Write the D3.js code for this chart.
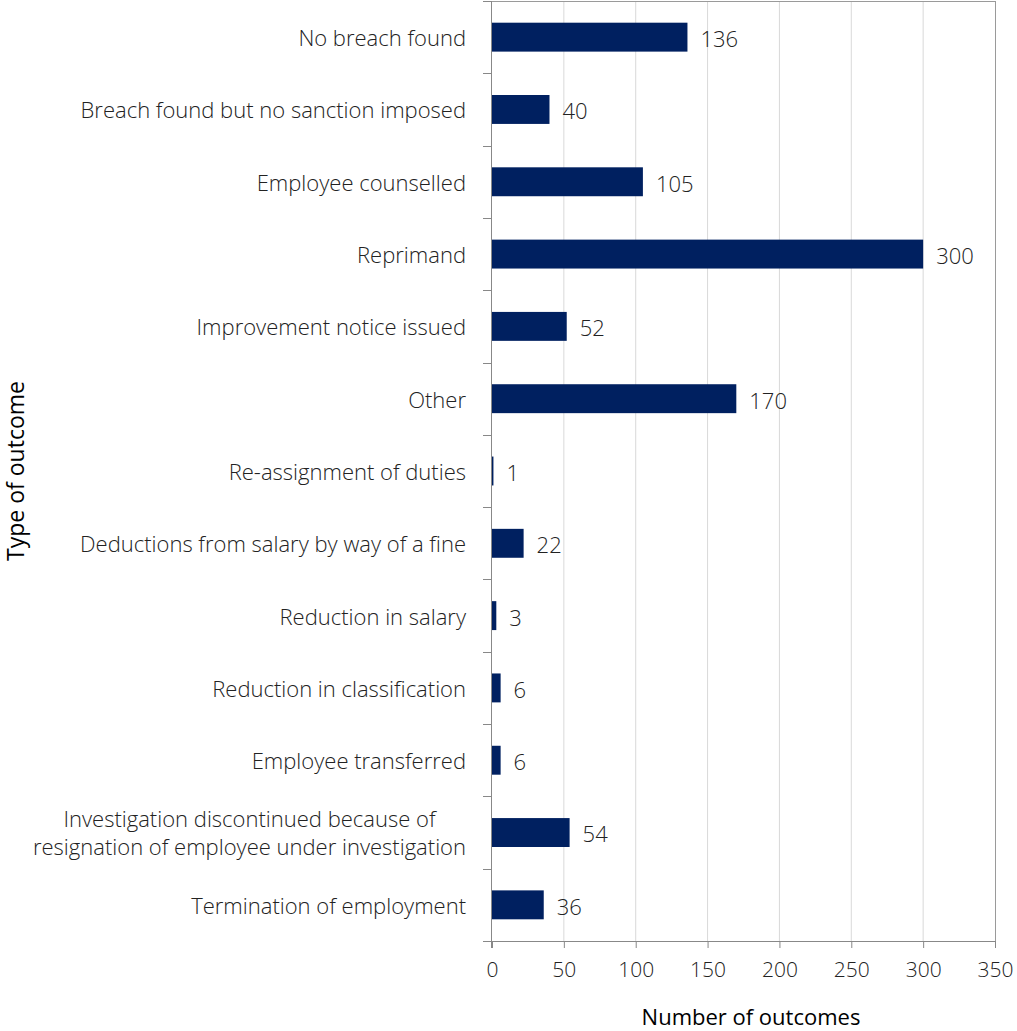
<!DOCTYPE html>
<html>
<head>
<meta charset="utf-8">
<script src="https://cdn.jsdelivr.net/npm/d3@7"></script>
<style>
    body { margin: 0; background: #fff; }
    text { font-family: "Open Sans", "Liberation Sans", Arial, sans-serif; font-weight: 300; }
</style>
</head>
<body>
<svg id="chart"></svg>
<script>
    'use strict';

    var categories = [
        'No breach found',
        'Breach found but no sanction imposed',
        'Employee counselled',
        'Reprimand',
        'Improvement notice issued',
        'Other',
        'Re-assignment of duties',
        'Deductions from salary by way of a fine',
        'Reduction in salary',
        'Reduction in classification',
        'Employee transferred',
        'Investigation discontinued because of\nresignation of employee under investigation',
        'Termination of employment'
    ];
    var values = [136, 40, 105, 300, 52, 170, 1, 22, 3, 6, 6, 54, 36];
    var xTicks = [0, 50, 100, 150, 200, 250, 300, 350];

    var width = 1017;
    var height = 1031;
    var margin = { top: 1, right: 22, bottom: 90, left: 492 };
    var plotW = width - margin.left - margin.right;
    var plotH = height - margin.top - margin.bottom;

    var svg = d3.select('#chart')
        .attr('width', width)
        .attr('height', height);

    var g = svg.append('g')
        .attr('transform', 'translate(' + margin.left + ',' + margin.top + ')');

    var x = d3.scaleLinear().domain([0, 350]).range([0, plotW]);
    var y = d3.scaleBand()
        .domain(categories)
        .range([0, plotH])
        .paddingInner(0.6)
        .paddingOuter(0.3);
    var step = y.step();

    // gridlines
    g.selectAll('.grid')
        .data(xTicks.slice(1, -1))
        .enter().append('line')
        .attr('x1', function (d) { return x(d); })
        .attr('x2', function (d) { return x(d); })
        .attr('y1', 0)
        .attr('y2', plotH)
        .attr('stroke', '#d9d9d9')
        .attr('stroke-width', 1);

    // frame top + right
    g.append('line')
        .attr('x1', 0).attr('x2', plotW)
        .attr('y1', 0.5).attr('y2', 0.5)
        .attr('stroke', '#9a9a9a');
    g.append('line')
        .attr('x1', plotW + 0.5).attr('x2', plotW + 0.5)
        .attr('y1', 0).attr('y2', plotH)
        .attr('stroke', '#9a9a9a');

    // bars
    g.selectAll('.bar')
        .data(values)
        .enter().append('rect')
        .attr('class', 'bar')
        .attr('x', x(0))
        .attr('y', function (d, i) { return y(categories[i]); })
        .attr('width', function (d) { return x(d) - x(0); })
        .attr('height', y.bandwidth())
        .attr('fill', '#002060');

    // value labels
    g.selectAll('.val')
        .data(values)
        .enter().append('text')
        .attr('x', function (d) { return x(d) + 13; })
        .attr('y', function (d, i) { return y(categories[i]) + y.bandwidth() / 2 + 2; })
        .attr('dy', '0.36em')
        .attr('font-size', 22)
        .attr('fill', '#222')
        .text(function (d) { return d; });

    // x axis
    var xAxis = g.append('g')
        .attr('transform', 'translate(0,' + plotH + ')')
        .call(d3.axisBottom(x).tickValues(xTicks).tickSize(7).tickSizeOuter(0).tickPadding(14));
    xAxis.select('.domain').attr('stroke', '#888');
    xAxis.selectAll('.tick line').attr('stroke', '#888');
    xAxis.selectAll('.tick text')
        .attr('font-size', 21)
        .attr('fill', '#222')
        .style('font-family', '"Open Sans", "Liberation Sans", Arial, sans-serif');

    // y axis line + ticks at band boundaries
    g.append('line')
        .attr('x1', -0.5).attr('x2', -0.5)
        .attr('y1', 0).attr('y2', plotH + 7)
        .attr('stroke', '#888');
    g.selectAll('.ytick')
        .data(d3.range(categories.length + 1))
        .enter().append('line')
        .attr('x1', -9).attr('x2', 0)
        .attr('y1', function (i) { return Math.round(i * step) + 0.5; })
        .attr('y2', function (i) { return Math.round(i * step) + 0.5; })
        .attr('stroke', '#888');

    // category labels
    var labelRight = -26;
    categories.forEach(function (c, i) {
        var lines = c.split('\n');
        var cy = y(c) + y.bandwidth() / 2 + 1;
        var t = g.append('text')
            .attr('font-size', 22)
            .attr('fill', '#222');
        lines.forEach(function (ln, j) {
            t.append('tspan')
                .attr('x', labelRight)
                .attr('y', cy + (j - (lines.length - 1) / 2) * 28)
                .attr('dy', '0.36em')
                .text(ln);
        });
        if (lines.length > 1) {
            var maxW = 0;
            t.selectAll('tspan').each(function () {
                maxW = Math.max(maxW, this.getComputedTextLength());
            });
            t.attr('text-anchor', 'middle')
                .selectAll('tspan').attr('x', labelRight - maxW / 2);
        } else {
            t.attr('text-anchor', 'end');
        }
    });

    // axis titles
    svg.append('text')
        .attr('x', 751)
        .attr('y', 1025)
        .attr('text-anchor', 'middle')
        .attr('font-size', 22)
        .style('font-weight', 400)
        .attr('fill', '#000')
        .text('Number of outcomes');

    svg.append('text')
        .attr('transform', 'translate(16,471) rotate(-90)')
        .attr('dy', '0.36em')
        .attr('text-anchor', 'middle')
        .attr('font-size', 23)
        .style('font-weight', 400)
        .attr('fill', '#000')
        .text('Type of outcome');
</script>
</body>
</html>
